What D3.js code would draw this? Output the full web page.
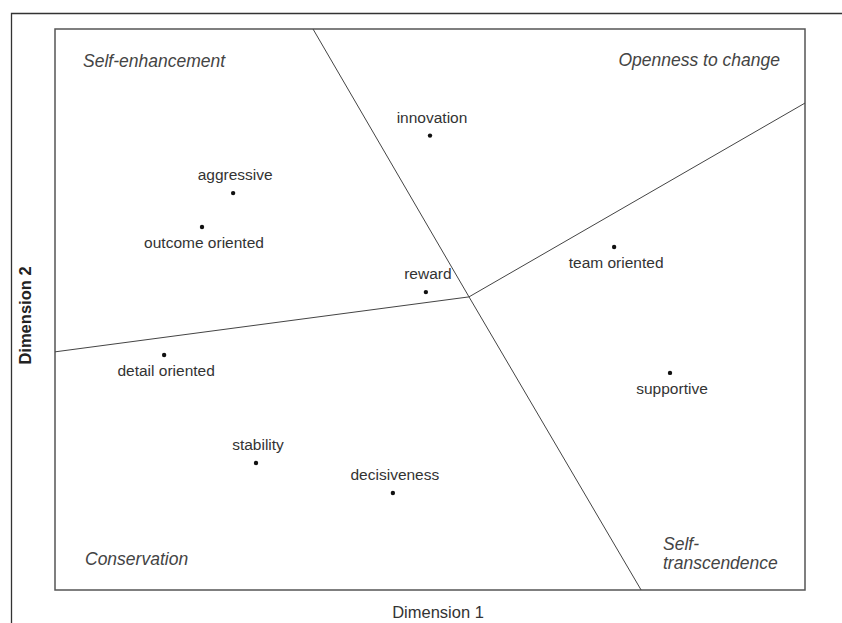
<!DOCTYPE html>
<html>
<head>
<meta charset="utf-8">
<script src="https://cdn.jsdelivr.net/npm/d3@7"></script>
<style>
  body { margin: 0; background: #fff; }
  text { font-family: "Liberation Sans", Arial, sans-serif; }
</style>
</head>
<body>
<script>
// MDS coordinates of culture dimensions
let labels = ['innovation', 'aggressive', 'outcome oriented', 'reward', 'team oriented',
  'detail oriented', 'supportive', 'stability', 'decisiveness']
let dim1 = [0.0, -0.525, -0.608, -0.011, 0.491, -0.709, 0.64, -0.464, -0.099]
let dim2 = [0.62, 0.415, 0.294, 0.062, 0.223, -0.162, -0.226, -0.547, -0.654]
// label above (-1) or below (1) the point
let labelSide = [-1, -1, 1, -1, 1, 1, 1, -1, -1]

// region boundaries, all meet in one centre
let centre = [0.104, 0.045]
let boundEnds = [[-0.312, 1], [0.563, -1], [-1, -0.151], [1, 0.736]]

let regions = ['Self-enhancement', 'Openness to change', 'Conservation', 'Self-\ntranscendence']

let W = 842, H = 623
let margin = { top: 29, right: 37, bottom: 33, left: 55 }

let svg = d3.select('body').append('svg')
  .attr('width', W).attr('height', H)

// outer frame (top + left)
svg.append('path')
  .attr('d', `M11.5,${H} V13.5 H${W}`)
  .attr('fill', 'none').attr('stroke', '#333').attr('stroke-width', 1.3)

let x = d3.scaleLinear().domain([-1, 1]).range([margin.left, W - margin.right])
let y = d3.scaleLinear().domain([-1, 1]).range([H - margin.bottom, margin.top])

let g = svg.append('g')

g.append('rect')
  .attr('x', x(-1)).attr('y', y(1))
  .attr('width', x(1) - x(-1)).attr('height', y(-1) - y(1))
  .attr('fill', 'none').attr('stroke', '#555').attr('stroke-width', 1.5)

let line = d3.line().x(d => x(d[0])).y(d => y(d[1]))
g.selectAll('.bound').data(boundEnds).enter()
  .append('path')
  .attr('class', 'bound')
  .attr('d', d => line([centre, d]))
  .attr('fill', 'none').attr('stroke', '#444').attr('stroke-width', 1)

let pts = labels.map((l, i) => ({ label: l, x: dim1[i], y: dim2[i], side: labelSide[i] }))

g.selectAll('.dot').data(pts).enter()
  .append('circle')
  .attr('cx', d => x(d.x)).attr('cy', d => y(d.y))
  .attr('r', 2.2).attr('fill', '#111')

g.selectAll('.lab').data(pts).enter()
  .append('text')
  .attr('x', d => x(d.x) + 2)
  .attr('y', d => y(d.y) + (d.side < 0 ? -13 : 21))
  .attr('text-anchor', 'middle')
  .attr('font-size', 15.5)
  .attr('fill', '#333')
  .text(d => d.label)

// quadrant names
let qpos = [
  { x: x(-1) + 28, y: y(1) + 38, anchor: 'start' },
  { x: x(1) - 25, y: y(1) + 37, anchor: 'end' },
  { x: x(-1) + 30, y: y(-1) - 25, anchor: 'start' },
  { x: x(1) - 142, y: y(-1) - 40, anchor: 'start' }
]
regions.forEach((r, i) => {
  let t = g.append('text')
    .attr('x', qpos[i].x).attr('y', qpos[i].y)
    .attr('text-anchor', qpos[i].anchor)
    .attr('font-size', 17.5).attr('font-style', 'italic')
    .attr('fill', '#444')
  r.split('\n').forEach((s, j) => {
    t.append('tspan').attr('x', qpos[i].x).attr('dy', j ? 19 : 0).text(s)
  })
})

// axis titles
svg.append('text')
  .attr('x', (x(-1) + x(1)) / 2 + 8).attr('y', H - 5)
  .attr('text-anchor', 'middle')
  .attr('font-size', 16.5).attr('fill', '#333')
  .text('Dimension 1')

svg.append('text')
  .attr('transform', `translate(31,${(y(1) + y(-1)) / 2 + 6}) rotate(-90)`)
  .attr('text-anchor', 'middle')
  .attr('font-size', 16.5).attr('font-weight', 'bold').attr('fill', '#222')
  .text('Dimension 2')
</script>
</body>
</html>
